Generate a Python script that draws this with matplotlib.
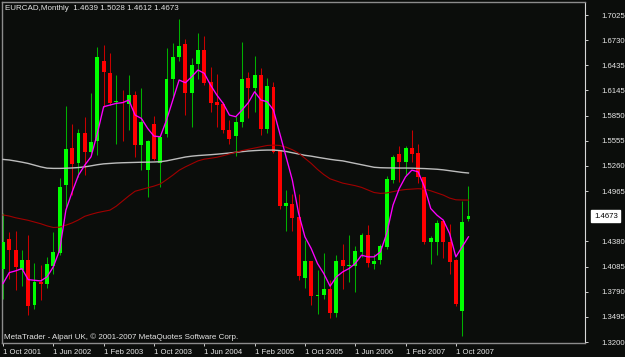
import matplotlib

matplotlib.use("Agg")
import matplotlib.pyplot as plt
import matplotlib.transforms as mtransforms
import numpy as np

plt.rcParams["font.family"] = ["Liberation Sans", "DejaVu Sans"]

# monthly EURCAD candles, Oct 2001 .. Dec 2007
opens = [1.4061, 1.4412, 1.4283, 1.4049, 1.4159, 1.3632, 1.3905, 1.3886, 1.4092, 1.4248,
         1.5040, 1.5465, 1.5290, 1.5640, 1.5426, 1.5555, 1.6491, 1.6343, 1.6007, 1.6011,
         1.5984, 1.6085, 1.5504, 1.5219, 1.5754, 1.5290, 1.5629, 1.6272, 1.6530, 1.6686,
         1.6116, 1.6448, 1.6616, 1.6237, 1.6011, 1.5989, 1.5680, 1.5613, 1.5769, 1.6284,
         1.6175, 1.6323, 1.5687, 1.6187, 1.5445, 1.4794, 1.4810, 1.4666, 1.3952, 1.4147,
         1.3741, 1.3757, 1.3827, 1.3542, 1.4159, 1.4092, 1.4092, 1.4256, 1.4451, 1.4120,
         1.4167, 1.4315, 1.5095, 1.5399, 1.5305, 1.5465, 1.5407, 1.5126, 1.4377, 1.4377,
         1.4615, 1.4377, 1.4167, 1.3566, 1.4639]
highs = [1.4705, 1.4490, 1.4502, 1.4283, 1.4451, 1.4131, 1.4100, 1.4198, 1.4486, 1.5114,
         1.5960, 1.5750, 1.5691, 1.5836, 1.6109, 1.6655, 1.6674, 1.6577, 1.6323, 1.6148,
         1.6323, 1.6136, 1.6167, 1.5563, 1.5843, 1.5610, 1.6635, 1.6701, 1.6978, 1.6744,
         1.6518, 1.6811, 1.6783, 1.6421, 1.6331, 1.6011, 1.5797, 1.5843, 1.6713, 1.6362,
         1.6545, 1.6401, 1.6284, 1.6245, 1.5445, 1.4985, 1.4927, 1.4930, 1.4393, 1.4150,
         1.4041, 1.4244, 1.3932, 1.4217, 1.4354, 1.4451, 1.4327, 1.4471, 1.4576, 1.4229,
         1.4354, 1.5142, 1.5387, 1.5497, 1.5493, 1.5680, 1.5516, 1.5130, 1.4440, 1.4627,
         1.4615, 1.4580, 1.4170, 1.4853, 1.5028]
lows = [1.3710, 1.3944, 1.3815, 1.3854, 1.3515, 1.3593, 1.3698, 1.3839, 1.4003, 1.4217,
        1.4783, 1.4919, 1.5134, 1.5153, 1.5407, 1.5387, 1.5953, 1.5972, 1.5516, 1.5555,
        1.5680, 1.5360, 1.5219, 1.4892, 1.5330, 1.5009, 1.5594, 1.6050, 1.6491, 1.5855,
        1.5711, 1.6272, 1.6206, 1.5894, 1.5719, 1.5641, 1.5516, 1.5375, 1.5711, 1.5816,
        1.5894, 1.5621, 1.5641, 1.5407, 1.4763, 1.4502, 1.4502, 1.3925, 1.3830, 1.3632,
        1.3534, 1.3710, 1.3484, 1.3496, 1.3827, 1.3905, 1.3788, 1.4198, 1.4080, 1.4061,
        1.4120, 1.4288, 1.5056, 1.5075, 1.5153, 1.5309, 1.5064, 1.4346, 1.4112, 1.4225,
        1.4190, 1.4003, 1.3625, 1.3270, 1.4612]
closes = [1.4373, 1.4276, 1.4081, 1.4159, 1.3628, 1.3905, 1.3886, 1.4112, 1.4256, 1.5017,
          1.5453, 1.5282, 1.5648, 1.5426, 1.5543, 1.6530, 1.6362, 1.5992, 1.6023, 1.5992,
          1.6089, 1.5504, 1.5777, 1.5555, 1.5336, 1.5602, 1.6272, 1.6538, 1.6666, 1.6116,
          1.6440, 1.6616, 1.6233, 1.5999, 1.5972, 1.5680, 1.5574, 1.5769, 1.6276, 1.6175,
          1.6323, 1.5687, 1.6194, 1.5426, 1.4794, 1.4822, 1.4654, 1.3971, 1.4147, 1.3740,
          1.3753, 1.3827, 1.3542, 1.4147, 1.4092, 1.4108, 1.4264, 1.4451, 1.4131, 1.4155,
          1.4327, 1.5103, 1.5360, 1.5305, 1.5465, 1.5399, 1.5126, 1.4377, 1.4424, 1.4588,
          1.4377, 1.4135, 1.3652, 1.4600, 1.4673]

# moving averages as drawn on the chart
ma_fast = [1.3886, 1.4014, 1.4034, 1.4061, 1.3932, 1.3924, 1.3917, 1.3964, 1.4081, 1.4276,
           1.4744, 1.4958, 1.5153, 1.5270, 1.5368, 1.5641, 1.5953, 1.5972, 1.5992, 1.6000,
           1.6031, 1.5855, 1.5816, 1.5699, 1.5609, 1.5602, 1.5797, 1.6031, 1.6265, 1.6233,
           1.6304, 1.6382, 1.6343, 1.6206, 1.6089, 1.5992, 1.5855, 1.5836, 1.5914, 1.6000,
           1.6128, 1.6031, 1.6011, 1.5914, 1.5641, 1.5368, 1.5095, 1.4705, 1.4432, 1.4295,
           1.4120, 1.4003, 1.3855, 1.3964, 1.4022, 1.4061, 1.4120, 1.4217, 1.4198, 1.4198,
           1.4256, 1.4471, 1.4802, 1.4997, 1.5134, 1.5212, 1.5192, 1.5017, 1.4763, 1.4685,
           1.4627, 1.4471, 1.4198, 1.4315, 1.4432]
ma_mid = [1.4688, 1.4675, 1.4655, 1.4640, 1.4625, 1.4605, 1.4585, 1.4560, 1.4541, 1.4545,
          1.4568, 1.4595, 1.4630, 1.4672, 1.4695, 1.4715, 1.4730, 1.4744, 1.4790, 1.4850,
          1.4910, 1.4965, 1.4985, 1.5005, 1.5025, 1.5050, 1.5100, 1.5153, 1.5210, 1.5250,
          1.5285, 1.5320, 1.5340, 1.5350, 1.5362, 1.5380, 1.5400, 1.5420, 1.5440, 1.5455,
          1.5470, 1.5485, 1.5500, 1.5504, 1.5500, 1.5480, 1.5450, 1.5410, 1.5350, 1.5290,
          1.5220, 1.5160, 1.5110, 1.5085, 1.5060, 1.5045, 1.5030, 1.5010, 1.4980, 1.4950,
          1.4940, 1.4945, 1.4960, 1.4975, 1.4985, 1.4990, 1.4995, 1.4990, 1.4970, 1.4945,
          1.4920, 1.4885, 1.4865, 1.4862, 1.4862]
ma_slow = [1.5337, 1.5330, 1.5318, 1.5305, 1.5290, 1.5270, 1.5250, 1.5235, 1.5232, 1.5232,
           1.5234, 1.5237, 1.5242, 1.5250, 1.5262, 1.5275, 1.5285, 1.5290, 1.5295, 1.5298,
           1.5300, 1.5302, 1.5304, 1.5305, 1.5307, 1.5310, 1.5320, 1.5335, 1.5350, 1.5365,
           1.5375, 1.5382, 1.5387, 1.5392, 1.5398, 1.5405, 1.5412, 1.5420, 1.5428, 1.5435,
           1.5440, 1.5444, 1.5446, 1.5446, 1.5440, 1.5430, 1.5415, 1.5400, 1.5385, 1.5375,
           1.5362, 1.5350, 1.5338, 1.5328, 1.5320, 1.5305, 1.5290, 1.5275, 1.5260, 1.5245,
           1.5240, 1.5238, 1.5237, 1.5236, 1.5236, 1.5235, 1.5232, 1.5230, 1.5226, 1.5222,
           1.5215, 1.5205, 1.5195, 1.5185, 1.5178]

date_labels = ["1 Oct 2001", "1 Jun 2002", "1 Feb 2003", "1 Oct 2003", "1 Jun 2004",
               "1 Feb 2005", "1 Oct 2005", "1 Jun 2006", "1 Feb 2007", "1 Oct 2007"]
price_ticks = [1.7025, 1.6730, 1.6435, 1.6145, 1.5850, 1.5555, 1.5260, 1.4965,
               1.4380, 1.4085, 1.3790, 1.3495, 1.3200]
last_price = 1.4673

BG = "#0b0d0b"
TXT = "#e6e6e6"

o = np.array(opens)
h = np.array(highs)
l = np.array(lows)
c = np.array(closes)
x = np.arange(len(o))
bull = c >= o

fig = plt.figure(figsize=(6.25, 3.57), dpi=100, facecolor=BG)
ax = fig.add_axes([2 / 625, 1 - 343 / 357, 583 / 625, 341 / 357])
ax.set_facecolor(BG)

# wicks
ax.vlines(x[bull], l[bull], h[bull], color="#00b000", lw=0.75, zorder=2)
ax.vlines(x[~bull], l[~bull], h[~bull], color="#c80000", lw=0.75, zorder=2)
# bodies
body = np.maximum(np.abs(c - o), 0.0012)
ax.bar(x[bull], body[bull], bottom=np.minimum(o, c)[bull], width=0.62,
       color="#00ff00", lw=0, zorder=3)
ax.bar(x[~bull], body[~bull], bottom=np.minimum(o, c)[~bull], width=0.62,
       color="#ff0000", lw=0, zorder=3)

ax.plot(x, ma_slow, color="#bdbdbd", lw=1.0, zorder=4)
ax.plot(x, ma_mid, color="#a00000", lw=0.8, zorder=4)
ax.plot(x, ma_fast, color="#ff00ff", lw=0.95, zorder=5)

px_per_bar = 6.29
ax.set_xlim((2 - 3) / px_per_bar, (585 - 3) / px_per_bar)
ax.set_ylim(1.7025 - (343 - 15) * 0.0011689, 1.7025 + 13 * 0.0011689)

for side in ("left", "top", "bottom"):
    ax.spines[side].set_color("#8c8c8c")
    ax.spines[side].set_linewidth(1.0)
ax.spines["right"].set_color("#d8d8d8")
ax.spines["right"].set_linewidth(0.8)

ax.yaxis.tick_right()
ax.set_yticks(price_ticks)
ax.set_yticklabels([f"{v:.4f}" for v in price_ticks])
ax.tick_params(axis="y", colors="#d0d0d0", labelcolor=TXT, length=2.5, width=0.7,
               pad=9, labelsize=5.6)
ax.set_xticks(x[::8][:len(date_labels)])
ax.set_xticklabels(date_labels, ha="left")
ax.tick_params(axis="x", colors="#d0d0d0", labelcolor=TXT, length=2.5, width=0.7,
               pad=1.5, labelsize=5.6)

trans = mtransforms.blended_transform_factory(ax.transAxes, ax.transData)
ax.text(1.0 + 9 / 583, last_price, f"{last_price:.4f}", transform=trans,
        ha="left", va="center", fontsize=5.6, color="black", zorder=6,
        bbox=dict(boxstyle="square,pad=0.35", fc="white", ec="white"),
        clip_on=False)

fig.text(5 / 625, 1 - 8 / 357, "EURCAD,Monthly  1.4639 1.5028 1.4612 1.4673",
         ha="left", va="center", fontsize=5.8, color=TXT)
fig.text(4 / 625, 1 - 337 / 357,
         "MetaTrader - Alpari UK, \u00a9 2001-2007 MetaQuotes Software Corp.",
         ha="left", va="center", fontsize=5.8, color=TXT)

fig.savefig("out.png", dpi=100, facecolor=BG)
